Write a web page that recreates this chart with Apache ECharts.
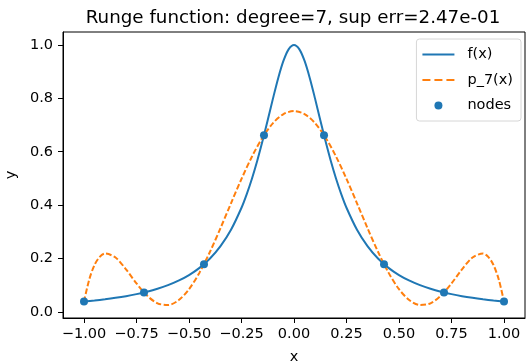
<!DOCTYPE html>
<html>
<head>
<meta charset="utf-8">
<script src="https://cdn.jsdelivr.net/npm/echarts@6/dist/echarts.min.js"></script>
<style>
  html, body { margin: 0; padding: 0; background: #fff; }
  #root1 { width: 527px; height: 362px; }
</style>
</head>
<body>
<div id="root1"></div>
<script>
const xF = [-1, -0.95, -0.9, -0.85, -0.8, -0.75, -0.7, -0.65, -0.6, -0.55, -0.5, -0.45, -0.4, -0.35, -0.3, -0.25,
  -0.225, -0.2, -0.175, -0.15, -0.125, -0.1, -0.075, -0.05, -0.025, 0,
  0.025, 0.05, 0.075, 0.1, 0.125, 0.15, 0.175, 0.2, 0.225,
  0.25, 0.3, 0.35, 0.4, 0.45, 0.5, 0.55, 0.6, 0.65, 0.7, 0.75, 0.8, 0.85, 0.9, 0.95, 1];
const yF = [0.0385, 0.0424, 0.0471, 0.0525, 0.0588, 0.0664, 0.0755, 0.0865, 0.1, 0.1168, 0.1379, 0.1649, 0.2, 0.2462, 0.3077, 0.3902,
  0.4414, 0.5, 0.5664, 0.64, 0.7191, 0.8, 0.8767, 0.9412, 0.9846, 1,
  0.9846, 0.9412, 0.8767, 0.8, 0.7191, 0.64, 0.5664, 0.5, 0.4414,
  0.3902, 0.3077, 0.2462, 0.2, 0.1649, 0.1379, 0.1168, 0.1, 0.0865, 0.0755, 0.0664, 0.0588, 0.0525, 0.0471, 0.0424, 0.0385];

const xP = [-1, -0.975, -0.95, -0.925, -0.9, -0.85, -0.8, -0.75, -0.7, -0.65, -0.6, -0.55, -0.5, -0.45, -0.4, -0.35, -0.3, -0.25, -0.2, -0.15, -0.1, -0.05, 0,
  0.05, 0.1, 0.15, 0.2, 0.25, 0.3, 0.35, 0.4, 0.45, 0.5, 0.55, 0.6, 0.65, 0.7, 0.75, 0.8, 0.85, 0.9, 0.925, 0.95, 0.975, 1];
const yP = [0.0385, 0.1215, 0.1756, 0.2063, 0.2185, 0.2037, 0.1593, 0.1067, 0.0610, 0.0321, 0.0256, 0.0434, 0.0849, 0.1470, 0.2251, 0.3138, 0.4069, 0.4983, 0.5822, 0.6533, 0.7074, 0.7412, 0.7526,
  0.7412, 0.7074, 0.6533, 0.5822, 0.4983, 0.4069, 0.3138, 0.2251, 0.1470, 0.0849, 0.0434, 0.0256, 0.0321, 0.0610, 0.1067, 0.1593, 0.2037, 0.2185, 0.2063, 0.1756, 0.1215, 0.0385];

const xN = [-1, -0.7143, -0.4286, -0.1429, 0.1429, 0.4286, 0.7143, 1];
const yN = [0.0385, 0.0727, 0.1788, 0.6622, 0.6622, 0.1788, 0.0727, 0.0385];

const xTicks = [-1, -0.75, -0.5, -0.25, 0, 0.25, 0.5, 0.75, 1];
const yTicks = [0, 0.2, 0.4, 0.6, 0.8, 1.0];

const zip = (xs, ys) => xs.map((x, i) => [x, ys[i]]);
const font = 'DejaVu Sans';
const fmtX = v => (v < 0 ? '\u2212' : '') + Math.abs(v).toFixed(2);
const fmtY = v => (v < 0 ? '\u2212' : '') + Math.abs(v).toFixed(1);

// legend handles, 40x12 box (the lone moves pin the box size)
const iconLine = 'path://M0,0M40,12M0,5h32v2h-32z';
const iconDash = 'path://M0,0M40,12M0,5h8v2h-8zM12,5h8v2h-8zM24,5h8v2h-8z';
const iconDot = 'path://M0,0M40,12M12,6a4,4 0 1,0 8,0a4,4 0 1,0 -8,0z';

const chartDom = document.getElementById('root1');
const myChart = echarts.init(chartDom);

const option = {
  animation: false,
  title: {
    text: 'Runge function: degree=7, sup err=2.47e-01',
    left: 288,
    textAlign: 'center',
    top: 4,
    textStyle: { fontFamily: font, fontSize: 18.3, fontWeight: 'normal', color: '#000' }
  },
  legend: {
    orient: 'vertical',
    right: 6,
    top: 39,
    padding: [8, 8, 8, 6],
    itemGap: 10.5,
    itemWidth: 40,
    itemHeight: 12,
    borderColor: '#d6d6d6',
    borderWidth: 1,
    borderRadius: 3,
    textStyle: { fontFamily: font, fontSize: 14.5, color: '#000' },
    data: [
      { name: 'f(x)', icon: iconLine, itemStyle: { color: '#1f77b4' } },
      { name: 'p_7(x)', icon: iconDash, itemStyle: { color: '#ff7f0e' } },
      { name: 'nodes', icon: iconDot, itemStyle: { color: '#1f77b4' } }
    ]
  },
  grid: {
    left: 63, right: 2, top: 32, bottom: 44,
    outerBoundsMode: 'none',
    containLabel: false,
    show: true, borderColor: '#000', borderWidth: 1
  },
  xAxis: {
    type: 'value',
    min: -1.1, max: 1.1,
    name: 'x',
    nameLocation: 'center',
    nameGap: 32,
    nameTextStyle: { fontFamily: font, fontSize: 14.5, color: '#000' },
    splitLine: { show: false },
    axisLine: { show: true, onZero: false, lineStyle: { color: '#000', width: 1 } },
    axisTick: { show: true, length: 5, lineStyle: { color: '#000' }, customValues: xTicks },
    axisLabel: {
      fontFamily: font, fontSize: 14.5, color: '#000', margin: 9,
      customValues: xTicks, formatter: fmtX
    }
  },
  yAxis: {
    type: 'value',
    min: -0.023, max: 1.0487,
    name: 'y',
    nameLocation: 'center',
    nameGap: 41,
    nameTextStyle: { fontFamily: font, fontSize: 14.5, color: '#000' },
    splitLine: { show: false },
    axisLine: { show: true, onZero: false, lineStyle: { color: '#000', width: 1 } },
    axisTick: { show: true, length: 5, lineStyle: { color: '#000' }, customValues: yTicks },
    axisLabel: {
      fontFamily: font, fontSize: 14.5, color: '#000', margin: 10,
      customValues: yTicks, formatter: fmtY
    }
  },
  series: [
    {
      name: 'f(x)',
      type: 'line',
      data: zip(xF, yF),
      smooth: 0.3,
      showSymbol: false,
      symbol: 'none',
      color: '#1f77b4',
      lineStyle: { width: 2, color: '#1f77b4' },
      z: 2
    },
    {
      name: 'p_7(x)',
      type: 'line',
      data: zip(xP, yP),
      smooth: 0.3,
      showSymbol: false,
      symbol: 'none',
      color: '#ff7f0e',
      lineStyle: { width: 2, color: '#ff7f0e', type: [5.5, 2.4] },
      z: 3
    },
    {
      name: 'nodes',
      type: 'scatter',
      data: zip(xN, yN),
      symbol: 'circle',
      symbolSize: 8,
      color: '#1f77b4',
      itemStyle: { color: '#1f77b4', opacity: 1 },
      z: 4
    }
  ]
};

myChart.setOption(option);
</script>
</body>
</html>
